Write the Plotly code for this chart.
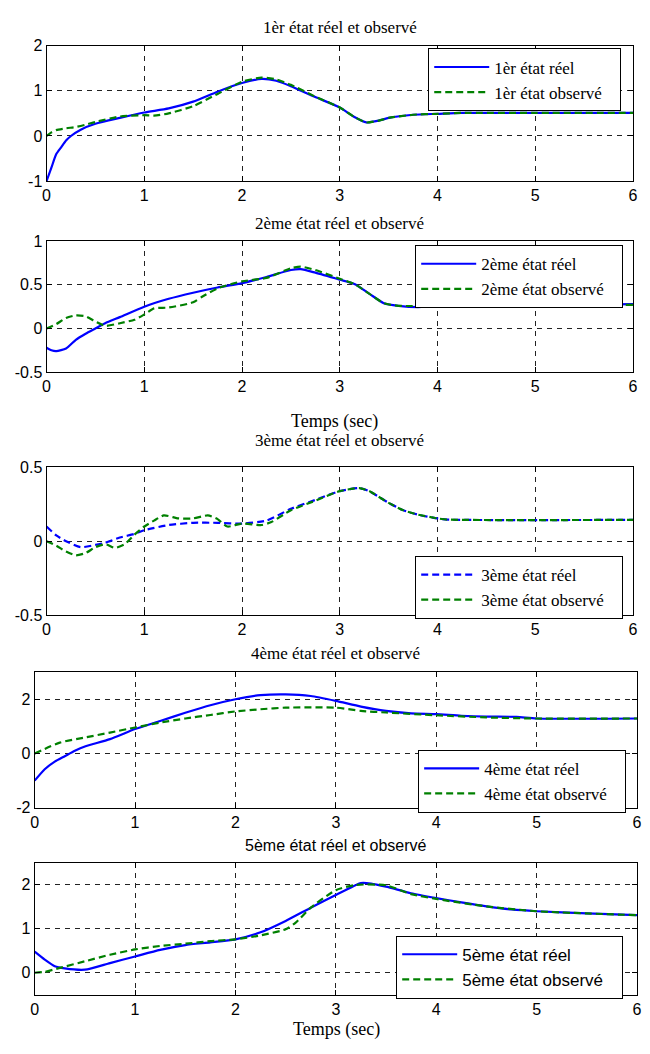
import plotly.graph_objects as go

# ---------------- data ----------------
t1_real = [0, 0.05, 0.1, 0.15, 0.2, 0.25, 0.35, 0.5, 0.75, 1.0, 1.25, 1.5, 1.75, 2.0, 2.2, 2.35, 2.5, 2.75, 3.0, 3.15, 3.27, 3.4, 3.5, 3.75, 4.0, 4.25, 5.0, 6.0]
y1_real = [-1.0, -0.7, -0.4, -0.25, -0.1, 0.0, 0.14, 0.27, 0.4, 0.52, 0.61, 0.76, 0.98, 1.17, 1.26, 1.22, 1.1, 0.86, 0.63, 0.42, 0.3, 0.34, 0.4, 0.47, 0.49, 0.51, 0.51, 0.51]
t1_obs = [0, 0.05, 0.1, 0.2, 0.3, 0.4, 0.5, 0.75, 1.0, 1.1, 1.25, 1.5, 1.75, 2.0, 2.2, 2.35, 2.5, 2.75, 3.0, 3.15, 3.27, 3.4, 3.5, 3.75, 4.0, 4.25, 5.0, 6.0]
y1_obs = [0, 0.08, 0.13, 0.17, 0.2, 0.25, 0.31, 0.43, 0.46, 0.45, 0.5, 0.66, 0.93, 1.2, 1.29, 1.25, 1.13, 0.87, 0.63, 0.42, 0.3, 0.34, 0.4, 0.47, 0.49, 0.51, 0.51, 0.51]

t2_real = [0, 0.05, 0.1, 0.2, 0.3, 0.4, 0.5, 0.6, 0.75, 1.0, 1.25, 1.5, 1.75, 2.0, 2.25, 2.5, 2.6, 2.75, 3.0, 3.15, 3.3, 3.45, 3.6, 3.8, 4.0, 5.0, 6.0]
y2_real = [-0.22, -0.25, -0.26, -0.23, -0.13, -0.06, 0.0, 0.06, 0.13, 0.25, 0.34, 0.41, 0.47, 0.52, 0.59, 0.67, 0.68, 0.64, 0.56, 0.51, 0.40, 0.29, 0.26, 0.245, 0.26, 0.265, 0.28]
t2_obs = [0, 0.1, 0.2, 0.3, 0.4, 0.5, 0.6, 0.75, 0.9, 1.0, 1.1, 1.25, 1.5, 1.6, 1.75, 2.0, 2.25, 2.5, 2.6, 2.75, 3.0, 3.15, 3.3, 3.45, 3.6, 4.0, 5.0, 6.0]
y2_obs = [0, 0.05, 0.12, 0.15, 0.14, 0.08, 0.03, 0.06, 0.1, 0.16, 0.23, 0.24, 0.3, 0.37, 0.46, 0.54, 0.58, 0.69, 0.71, 0.67, 0.57, 0.51, 0.40, 0.29, 0.26, 0.26, 0.265, 0.27]

t3_real = [0, 0.1, 0.2, 0.35, 0.5, 0.6, 0.75, 0.9, 1.0, 1.25, 1.5, 1.75, 2.0, 2.25, 2.5, 2.75, 3.0, 3.2, 3.3, 3.5, 3.65, 3.8, 4.0, 4.1, 6.0]
y3_real = [0.10, 0.04, 0.0, -0.04, -0.025, -0.01, 0.025, 0.05, 0.075, 0.11, 0.125, 0.125, 0.12, 0.14, 0.22, 0.28, 0.34, 0.36, 0.34, 0.26, 0.21, 0.18, 0.155, 0.147, 0.145]
t3_obs = [0, 0.1, 0.2, 0.3, 0.4, 0.5, 0.6, 0.7, 0.8, 0.9, 1.0, 1.1, 1.2, 1.35, 1.5, 1.65, 1.75, 1.85, 2.0, 2.2, 2.3, 2.5, 2.75, 3.0, 3.2, 3.3, 3.5, 3.65, 3.8, 4.0, 4.1, 6.0]
y3_obs = [0, -0.03, -0.07, -0.095, -0.08, -0.04, -0.02, -0.045, -0.02, 0.045, 0.10, 0.14, 0.175, 0.155, 0.155, 0.175, 0.15, 0.10, 0.12, 0.11, 0.13, 0.21, 0.275, 0.34, 0.36, 0.34, 0.26, 0.21, 0.18, 0.155, 0.147, 0.145]

t4_real = [0, 0.1, 0.2, 0.3, 0.4, 0.5, 0.75, 1.0, 1.25, 1.5, 1.75, 2.0, 2.25, 2.5, 2.75, 3.0, 3.25, 3.5, 3.75, 4.0, 4.25, 4.5, 4.8, 5.0, 6.0]
y4_real = [-1.0, -0.58, -0.3, -0.1, 0.1, 0.26, 0.53, 0.9, 1.2, 1.5, 1.78, 2.0, 2.15, 2.18, 2.12, 1.94, 1.73, 1.57, 1.48, 1.45, 1.39, 1.36, 1.35, 1.29, 1.29]
t4_obs = [0, 0.25, 0.5, 0.75, 1.0, 1.25, 1.5, 1.75, 2.0, 2.25, 2.5, 3.0, 3.25, 3.5, 4.0, 4.5, 5.0, 6.0]
y4_obs = [0, 0.4, 0.59, 0.77, 0.96, 1.14, 1.29, 1.42, 1.55, 1.63, 1.69, 1.69, 1.57, 1.51, 1.41, 1.33, 1.29, 1.29]

t5_real = [0, 0.1, 0.2, 0.3, 0.5, 0.75, 1.0, 1.25, 1.5, 1.75, 2.0, 2.25, 2.5, 2.75, 3.0, 3.25, 3.35, 3.5, 3.75, 4.0, 4.25, 4.5, 4.75, 5.0, 5.5, 6.0]
y5_real = [0.48, 0.3, 0.15, 0.1, 0.07, 0.22, 0.37, 0.52, 0.63, 0.69, 0.76, 0.92, 1.18, 1.48, 1.77, 2.04, 2.03, 1.96, 1.81, 1.70, 1.60, 1.51, 1.44, 1.40, 1.35, 1.31]
t5_obs = [0, 0.1, 0.25, 0.5, 0.75, 1.0, 1.25, 1.5, 1.75, 2.0, 2.25, 2.5, 2.6, 2.75, 3.0, 3.2, 3.5, 3.75, 4.0, 4.5, 5.0, 6.0]
y5_obs = [0, 0.02, 0.11, 0.26, 0.41, 0.53, 0.61, 0.66, 0.72, 0.76, 0.85, 0.99, 1.14, 1.48, 1.88, 2.0, 1.99, 1.79, 1.68, 1.51, 1.40, 1.31]

titles = ["1èr état réel et observé", "2ème état réel et observé", "3ème état réel et observé",
          "4ème état réel et observé", "5ème état réel et observé"]
names_real = ["1èr état réel", "2ème état réel", "3ème état réel", "4ème état réel", "5ème état réel"]
names_obs = ["1èr état observé", "2ème état observé", "3ème état observé", "4ème état observé", "5ème état observé"]
x_ticks = [0, 1, 2, 3, 4, 5, 6]
x_ticklabels = ["0", "1", "2", "3", "4", "5", "6"]
y_ranges = [[-1, 2], [-0.5, 1], [-0.5, 0.5], [-2, 3], [-0.5, 2.5]]
y_ticks = [[-1, 0, 1, 2], [-0.5, 0, 0.5, 1], [-0.5, 0, 0.5], [-2, 0, 2], [0, 1, 2]]
y_ticklabels = [["-1", "0", "1", "2"], ["-0.5", "0", "0.5", "1"], ["-0.5", "0", "0.5"],
                ["-2", "0", "2"], ["0", "1", "2"]]
xlabel = "Temps (sec)"

# ---------------- layout geometry (screen pixels) ----------------
SW, SH = 650, 1054
OFF = 8                      # default body margin of the html page
W, H = SW - 2 * OFF, SH - 2 * OFF


def px(x):
    return (x - OFF) / W


def py(y):
    return 1 - (y - OFF) / H


boxes = [(43, 638, 38, 176), (43, 638, 237, 370), (43, 638, 467, 617),
         (31, 642, 675, 813), (31, 642, 869, 1003)]
legend_pos = [(626, 41), (628, 241), (628, 557), (631, 754), (628, 943)]
title_y = [20, 219, 440, 656, 851]

SERIF = "Liberation Serif, Times New Roman, serif"
SANS = "Liberation Sans, Arial, sans-serif"
BLUE = "#0000FF"
GREEN = "#008000"

series = [(t1_real, y1_real, t1_obs, y1_obs), (t2_real, y2_real, t2_obs, y2_obs),
          (t3_real, y3_real, t3_obs, y3_obs), (t4_real, y4_real, t4_obs, y4_obs),
          (t5_real, y5_real, t5_obs, y5_obs)]

fig = go.Figure()
layout = dict(width=W, height=H, margin=dict(l=0, r=0, t=0, b=0),
              paper_bgcolor="white", plot_bgcolor="white", showlegend=True)
annotations = []

for i in range(5):
    k = "" if i == 0 else str(i + 1)
    tr, yr, to, yo = series[i]
    lg = "legend" + k
    leg_font = SANS if i == 4 else SERIF
    pad = "\u00a0" * 3
    fig.add_trace(go.Scatter(x=tr, y=yr, mode="lines", name=names_real[i] + pad,
                             line=dict(color=BLUE, width=2.2, shape="spline", smoothing=0.6,
                                       dash="7px,4px" if i == 2 else "solid"),
                             xaxis="x" + k, yaxis="y" + k, legend=lg))
    fig.add_trace(go.Scatter(x=to, y=yo, mode="lines", name=names_obs[i] + pad,
                             line=dict(color=GREEN, width=2.2, shape="spline", smoothing=0.6,
                                       dash="7px,4px"),
                             xaxis="x" + k, yaxis="y" + k, legend=lg))
    l, r, t, b = boxes[i]
    common = dict(showline=True, linecolor="black", linewidth=1, mirror="ticks",
                  ticks="inside", ticklen=5, tickcolor="black",
                  showgrid=True, gridcolor="#222222", gridwidth=0.8, griddash="5px,5px",
                  zeroline=False, ticklabeloverflow="allow",
                  tickfont=dict(family=SANS, size=16, color="black"))
    layout["xaxis" + k] = dict(domain=[px(l), px(r)], range=[0, 6], tickvals=x_ticks,
                               ticktext=x_ticklabels, anchor="y" + k, **common)
    layout["yaxis" + k] = dict(domain=[py(b), py(t)], range=y_ranges[i],
                               tickvals=y_ticks[i], ticktext=y_ticklabels[i],
                               anchor="x" + k, **common)
    lx, ly = legend_pos[i]
    layout[lg] = dict(x=px(lx), y=py(ly), xanchor="right", yanchor="top",
                      xref="paper", yref="paper", bgcolor="white", bordercolor="black",
                      borderwidth=1, itemwidth=55,
                      font=dict(family=leg_font, size=17, color="black"))
    annotations.append(dict(text=titles[i], x=px((l + r) / 2), y=py(title_y[i]),
                            xref="paper", yref="paper", showarrow=False,
                            xanchor="center", yanchor="middle",
                            font=dict(family=SANS if i == 4 else SERIF, size=16 if i == 4 else 17,
                                      color="black")))

annotations.append(dict(text=xlabel, x=px(335), y=py(420), xref="paper", yref="paper",
                        showarrow=False, xanchor="center", yanchor="middle",
                        font=dict(family=SERIF, size=18, color="black")))
annotations.append(dict(text=xlabel, x=px(337), y=py(1038), xref="paper", yref="paper",
                        showarrow=False, xanchor="center", yanchor="middle",
                        font=dict(family=SERIF, size=18, color="black")))
layout["annotations"] = annotations
fig.update_layout(**layout)
fig.write_html("out.html")
